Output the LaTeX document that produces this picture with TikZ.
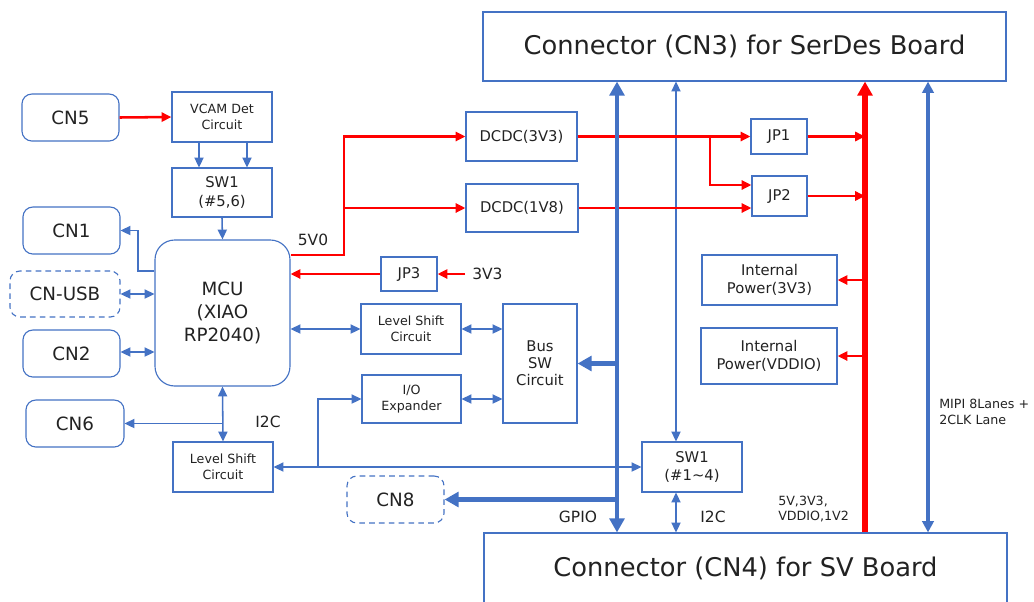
\documentclass[tikz,border=0pt]{standalone}
\usepackage{fontspec}
\setmainfont{DejaVu Sans}
\usetikzlibrary{arrows.meta}
\definecolor{lineblue}{HTML}{4472C4}
\definecolor{txtgray}{HTML}{222222}

\begin{document}
\begin{tikzpicture}[x=0.025cm,y=-0.025cm,
  sz/.style 2 args={minimum width=#1*0.025cm,minimum height=#2*0.025cm},
  box/.style={draw=lineblue,line width=0.8pt,fill=white,text=txtgray,align=center,inner sep=0pt},
  rbox/.style={box,rounded corners=7pt},
  dbox/.style={rbox,dash pattern=on 4pt off 3pt},
  titletxt/.style={font=\fontsize{18.3}{21}\selectfont},
  bigtxt/.style={font=\fontsize{13}{16.5}\selectfont},
  midtxt/.style={font=\fontsize{10.5}{13}\selectfont},
  smalltxt/.style={font=\fontsize{9}{11}\selectfont},
  lbl/.style={text=txtgray,inner sep=0pt,font=\fontsize{11}{13}\selectfont},
  tip/.tip={Triangle[length=7pt,width=6.5pt]},
  bigtip/.tip={Triangle[length=10pt,width=10.5pt]},
  bl/.style={draw=lineblue,line width=1.1pt,-tip},
  bbl/.style={draw=lineblue,line width=1.1pt,tip-tip},
  rl/.style={draw=red,line width=1.8pt,-tip},
  rbus/.style={draw=red,line width=4.2pt,-bigtip},
  gbus/.style={draw=lineblue,line width=3.2pt,bigtip-bigtip},
  garr/.style={draw=lineblue,line width=3.2pt,-bigtip},
  mbus/.style={draw=lineblue,line width=2.2pt,
    {Triangle[length=8pt,width=8pt]}-{Triangle[length=8pt,width=8pt]}}]

\useasboundingbox (0,0) rectangle (1034,601);

% ---- the two board connectors ----
\node[box,sz={523}{69},titletxt] (cn3) at (744.5,46.5)
  {Connector (CN3) for SerDes Board};
\node[box,sz={523}{70},titletxt] (cn4) at (745.5,568)
  {Connector (CN4) for SV Board};

% ---- left column: connectors round the MCU ----
\node[rbox,sz={97}{47},bigtxt] (cn5) at (70.5,117.5) {CN5};
\node[rbox,sz={97}{47},bigtxt] (cn1) at (71.5,230.5) {CN1};
\node[dbox,sz={110}{46},bigtxt] (cnusb) at (65,294) {CN-USB};
\node[rbox,sz={97}{47},bigtxt] (cn2) at (71.5,353.5) {CN2};
\node[rbox,sz={98}{47},bigtxt] (cn6) at (75,423.5) {CN6};

\node[box,sz={100}{50},smalltxt] (vcam) at (222,117) {VCAM Det\\Circuit};
\node[box,sz={100}{49},midtxt] (sw56) at (222,192.5) {SW1\\(\#5,6)};
\node[box,sz={135}{146},bigtxt,rounded corners=14pt] (mcu) at (222.5,313)
  {MCU\\(XIAO\\RP2040)};
\node[box,sz={100}{50},smalltxt] (lsb) at (223,467) {Level Shift\\Circuit};

% ---- middle: power and signal blocks ----
\node[box,sz={111}{49},midtxt] (dcdc3) at (521.5,136.5) {DCDC(3V3)};
\node[box,sz={112}{48},midtxt] (dcdc1) at (522,208) {DCDC(1V8)};
\node[box,sz={56}{34},midtxt] (jp3) at (409,274) {JP3};
\node[box,sz={100}{50},smalltxt] (lsm) at (411,329) {Level Shift\\Circuit};
\node[box,sz={99}{48},smalltxt] (iox) at (411.5,399) {I/O\\Expander};
\node[box,sz={74}{119},font=\fontsize{10.5}{12}\selectfont] (bussw) at (540,363.5)
  {Bus\\SW\\Circuit};
\node[dbox,sz={97}{47},bigtxt] (cn8) at (395.5,499.5) {CN8};

% ---- right: jumpers, internal power, SW1 ----
\node[box,sz={56}{35},midtxt] (jp1) at (779,136.5) {JP1};
\node[box,sz={55}{40},midtxt] (jp2) at (779.5,196) {JP2};
\node[box,sz={135}{50},midtxt] (ip33) at (769.5,280) {Internal\\Power(3V3)};
\node[box,sz={136}{56},midtxt] (ipvd) at (769,356) {Internal\\Power(VDDIO)};
\node[box,sz={100}{50},midtxt] (sw14) at (692,467) {SW1\\(\#1\textasciitilde4)};

% ---- x positions of the risers ----
\coordinate (gx) at (617,0);   % GPIO bus
\coordinate (ix) at (676,0);   % I2C to SW1
\coordinate (rx) at (865,0);   % power bus
\coordinate (mx) at (928,0);   % MIPI
\coordinate (vx) at (344,0);   % 5V0 riser
\coordinate (jx) at (710,0);   % 3V3 split
\coordinate (cx) at (138,0);   % CN1 feed
\coordinate (ex) at (318,0);   % I/O expander feed
\coordinate (in33) at (465,274);

% ---- blue signal lines ----
\foreach \x in {199,247}
  \draw[bl] (vcam.south -| \x,0) -- (sw56.north -| \x,0);
\draw[bl] (sw56.south) -- (mcu.north);
\draw[bl] (mcu.west |- 0,271) -- (cx |- 0,271) |- (cn1.east);
\draw[bbl] (cnusb.east) -- (cnusb.east -| mcu.west);
\draw[bbl] (cn2.east |- 0,352) -- (mcu.west |- 0,352);
\draw[bbl] (mcu.south) -- (lsb.north);
\draw[bl] (mcu.south |- cn6.east) -- (cn6.east);
\draw[bbl] (mcu.east |- lsm.west) -- (lsm.west);
\draw[bbl] (lsm.east) -- (lsm.east -| bussw.west);
\draw[bbl] (iox.east) -- (iox.east -| bussw.west);
\draw[bbl] (sw14.west) -- (lsb.east);
\draw[bl] (ex |- lsb.east) |- (iox.west);
\draw[bbl] (cn3.south -| ix) -- (sw14.north -| ix);
\draw[bbl] (sw14.south -| ix) -- (cn4.north -| ix);

% ---- red power lines ----
\draw[rl] (cn5.east) -- (vcam.west);
\draw[rl] (mcu.east |- 0,255) -- (vx |- 0,255) |- (dcdc3.west);
\draw[rl] (vx |- dcdc1.west) -- (dcdc1.west);
\draw[rl] (jp3.west) -- (mcu.east |- jp3.west);
\draw[rl] (in33) -- (jp3.east);
\draw[rl] (dcdc3.east) -- (jp1.west |- dcdc3.east);
\draw[rl] (jx |- dcdc3.east) |- (jp2.west |- 0,185);
\draw[rl] (dcdc1.east) -- (jp2.west |- dcdc1.east);
\draw[rl] (jp1.east) -- (rx |- jp1.east);
\draw[rl] (jp2.east) -- (rx |- jp2.east);
\draw[rl] (rx |- ip33.east) -- (ip33.east);
\draw[rl] (rx |- ipvd.east) -- (ipvd.east);

% ---- the buses ----
\draw[rbus] (cn4.north -| rx) -- (cn3.south -| rx);
\draw[gbus] (cn3.south -| gx) -- (cn4.north -| gx);
\draw[garr] (gx |- bussw.east) -- (bussw.east);
\draw[garr] (gx |- cn8.east) -- (cn8.east);
\draw[mbus] (cn3.south -| mx) -- (cn4.north -| mx);

% ---- labels ----
\node[lbl] (l5v0) at (313,240) {5V0};
\node[lbl,anchor=west] (l3v3) at (472,274) {3V3};
\node[lbl] (li2ca) at (268,422) {I2C};
\node[lbl] (lgpio) at (578,517) {GPIO};
\node[lbl] (li2cb) at (713,517) {I2C};
\node[text=txtgray,smalltxt,align=left,anchor=west,inner sep=0pt] (lpwr) at (778,509)
  {5V,3V3,\\VDDIO,1V2};
\node[text=txtgray,smalltxt,align=left,anchor=west,inner sep=0pt] (lmipi) at (939,412)
  {MIPI 8Lanes +\\2CLK Lane};

\end{tikzpicture}
\end{document}
